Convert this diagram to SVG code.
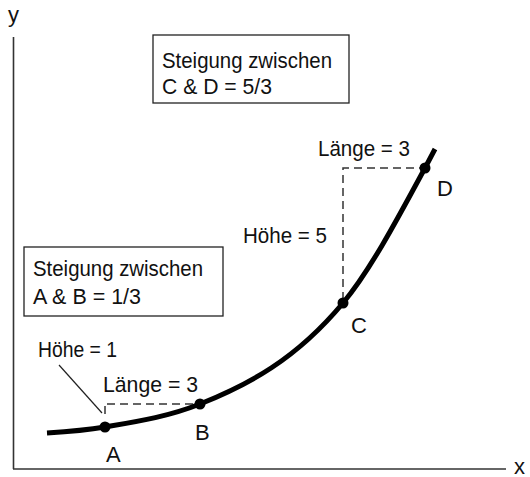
<svg xmlns="http://www.w3.org/2000/svg" width="530" height="477" viewBox="0 0 530 477">
<style>
text{font-family:"Liberation Sans",Arial,sans-serif;font-size:22px;fill:#111}
.box{fill:#fff;stroke:#222;stroke-width:1.3}
.axis{stroke:#333;stroke-width:1.6;fill:none}
.dash{stroke:#333;stroke-width:1.5;stroke-dasharray:8 5;fill:none}
.curve{stroke:#000;stroke-width:5;fill:none;stroke-linecap:butt}
.dot{fill:#000}
</style>
<rect width="530" height="477" fill="#fff"/>
<g id="axes">
<line class="axis" x1="13.5" y1="37" x2="13.5" y2="469"/>
<line class="axis" x1="13" y1="469" x2="506" y2="469"/>
<text x="8" y="22">y</text>
<text x="514" y="474">x</text>
</g>
<g id="connectors">
<path class="dash" d="M105 406 V414 M107 404 H198"/>
<path class="dash" d="M343 300 V168 H423"/>
<line x1="59" y1="365" x2="102" y2="413" stroke="#222" stroke-width="1.2"/>
</g>
<g id="curve">
<path class="curve" d="M47 433 C66.3 431.8 85.7 430.3 105 427 C136.7 421.6 168.3 416.7 200 404 C247.7 384.9 295.3 360.2 343 303 C370.3 270.2 397.7 218.5 425 168 L435 149"/>
</g>
<g id="A"><circle class="dot" cx="105" cy="427" r="5.5"/><text x="106" y="462">A</text></g>
<g id="B"><circle class="dot" cx="200" cy="404" r="5.5"/><text x="195" y="440">B</text></g>
<g id="C"><circle class="dot" cx="343" cy="303" r="5.5"/><text x="351" y="333">C</text></g>
<g id="D"><circle class="dot" cx="425" cy="168" r="5.5"/><text x="437" y="196">D</text></g>
<g id="box-CD">
<rect class="box" x="153" y="35" width="196" height="68"/>
<text x="162" y="68" textLength="170" lengthAdjust="spacingAndGlyphs">Steigung zwischen</text>
<text x="162" y="94" textLength="110" lengthAdjust="spacingAndGlyphs">C &amp; D = 5/3</text>
</g>
<g id="box-AB">
<rect class="box" x="24" y="247" width="199" height="69"/>
<text x="33" y="276" textLength="170" lengthAdjust="spacingAndGlyphs">Steigung zwischen</text>
<text x="33" y="304" textLength="108" lengthAdjust="spacingAndGlyphs">A &amp; B = 1/3</text>
</g>
<g id="labels">
<text x="38" y="357" textLength="79" lengthAdjust="spacingAndGlyphs">Höhe = 1</text>
<text x="103" y="392" textLength="95" lengthAdjust="spacingAndGlyphs">Länge = 3</text>
<text x="243" y="243" textLength="84" lengthAdjust="spacingAndGlyphs">Höhe = 5</text>
<text x="318" y="156" textLength="92" lengthAdjust="spacingAndGlyphs">Länge = 3</text>
</g>
</svg>
